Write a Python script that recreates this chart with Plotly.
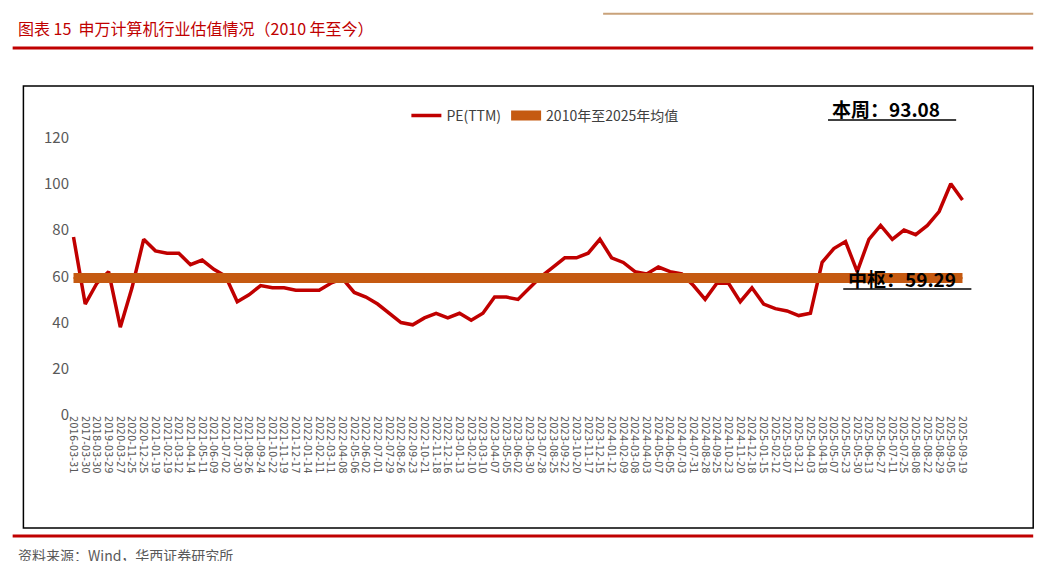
import plotly.graph_objects as go

dates = [
    "2016-03-31", "2017-03-30", "2018-03-30", "2019-03-29", "2020-03-27", "2020-11-25", "2020-12-25",
    "2021-01-19", "2021-02-19", "2021-03-12", "2021-04-14", "2021-05-11", "2021-06-09", "2021-07-02",
    "2021-07-30", "2021-08-26", "2021-09-24", "2021-10-22", "2021-11-19", "2021-12-17", "2022-01-14",
    "2022-02-11", "2022-03-11", "2022-04-08", "2022-05-06", "2022-06-02", "2022-07-01", "2022-07-29",
    "2022-08-26", "2022-09-23", "2022-10-21", "2022-11-18", "2022-12-16", "2023-01-13", "2023-02-10",
    "2023-03-10", "2023-04-07", "2023-05-05", "2023-06-02", "2023-06-30", "2023-07-28", "2023-08-25",
    "2023-09-22", "2023-10-20", "2023-11-17", "2023-12-15", "2024-01-12", "2024-02-09", "2024-03-08",
    "2024-04-03", "2024-05-07", "2024-06-05", "2024-07-03", "2024-07-31", "2024-08-28", "2024-09-25",
    "2024-10-23", "2024-11-20", "2024-12-18", "2025-01-15", "2025-02-12", "2025-03-07", "2025-03-21",
    "2025-04-03", "2025-04-18", "2025-05-07", "2025-05-23", "2025-05-30", "2025-06-13", "2025-06-27",
    "2025-07-11", "2025-07-25", "2025-08-08", "2025-08-22", "2025-08-29", "2025-09-05", "2025-09-19",
]
pe_ttm = [
    77, 48, 57, 62, 38, 55, 76, 71, 70, 70, 65, 67, 63, 60, 49, 52, 56, 55, 55, 54,
    54, 54, 57, 59, 53, 51, 48, 44, 40, 39, 42, 44, 42, 44, 41, 44, 51, 51, 50, 55,
    60, 64, 68, 68, 70, 76, 68, 66, 62, 61, 64, 62, 61, 56, 50, 57, 57, 49, 55, 48,
    46, 45, 43, 44, 66, 72, 75, 62, 76, 82, 76, 80, 78, 82, 88, 100, 93,
]
dates = dates[:len(pe_ttm)]
mean_pe = 59.29
current_pe = 93.08

red = "#C00000"
orange = "#C55A11"

fig = go.Figure()
fig.add_trace(go.Scatter(x=dates, y=pe_ttm, mode="lines", name="PE(TTM)",
                         line=dict(color=red, width=3.5)))
fig.add_trace(go.Scatter(x=dates, y=[mean_pe] * len(dates), mode="lines+markers",
                         name="2010年至2025年均值",
                         line=dict(color=orange, width=10),
                         marker=dict(symbol="square", size=1, color=orange)))

font = "Noto Sans CJK SC"
fig.update_layout(
    width=1053, height=561, paper_bgcolor="white", plot_bgcolor="white",
    margin=dict(l=62, r=95, t=118, b=154),
    font=dict(family=font, color="#595959", size=14),
    showlegend=True,
    legend=dict(orientation="h", x=0.53, y=1.035, xanchor="center", yanchor="middle",
                font=dict(size=14, color="#404040"), bgcolor="rgba(0,0,0,0)"),
    xaxis=dict(type="category", tickangle=90, tickvals=dates,
               tickfont=dict(size=11, color="#595959", family="DejaVu Sans Condensed"),
               showgrid=False, showline=False, ticks="", range=[-0.3, len(dates) - 0.7]),
    yaxis=dict(range=[0, 125], tickvals=[0, 20, 40, 60, 80, 100, 120], showgrid=False,
               zeroline=False, tickfont=dict(size=15, color="#595959")),
    shapes=[
        dict(type="line", xref="paper", yref="paper", x0=-0.064, x1=1.075, y0=1.27, y1=1.27,
             line=dict(color=red, width=3)),
        dict(type="line", xref="paper", yref="paper", x0=0.595, x1=1.075, y0=1.388, y1=1.388,
             line=dict(color="#C9A27A", width=2)),
        dict(type="rect", xref="paper", yref="paper", x0=-0.052, x1=1.075, y0=-0.391, y1=1.138,
             line=dict(color="black", width=1.5)),
        dict(type="line", xref="paper", yref="paper", x0=-0.064, x1=1.075, y0=-0.419, y1=-0.419,
             line=dict(color=red, width=3)),
        dict(type="line", xref="paper", yref="paper", x0=0.846, x1=0.989, y0=1.021, y1=1.021,
             line=dict(color="black", width=1.5)),
        dict(type="line", xref="paper", yref="paper", x0=0.863, x1=1.006, y0=0.436, y1=0.436,
             line=dict(color="black", width=1.5)),
    ],
    annotations=[
        dict(text="图表 15  申万计算机行业估值情况（2010 年至今）", xref="paper", yref="paper",
             x=-0.06, y=1.339, xanchor="left", yanchor="middle", showarrow=False,
             font=dict(size=16, color=red)),
        dict(text=f"<b>本周：{current_pe:.2f}</b>", xref="paper", yref="paper", x=0.848, y=1.062,
             xanchor="left", yanchor="middle", showarrow=False, font=dict(size=19, color="black")),
        dict(text=f"<b>中枢：{mean_pe:.2f}</b>", xref="paper", yref="paper", x=0.866, y=0.474,
             xanchor="left", yanchor="middle", showarrow=False, font=dict(size=19, color="black")),
        dict(text="资料来源：Wind，华西证券研究所", xref="paper", yref="paper", x=-0.06, y=-0.484,
             xanchor="left", yanchor="middle", showarrow=False, font=dict(size=14, color="#595959")),
    ],
)

fig.write_html("out.html")
